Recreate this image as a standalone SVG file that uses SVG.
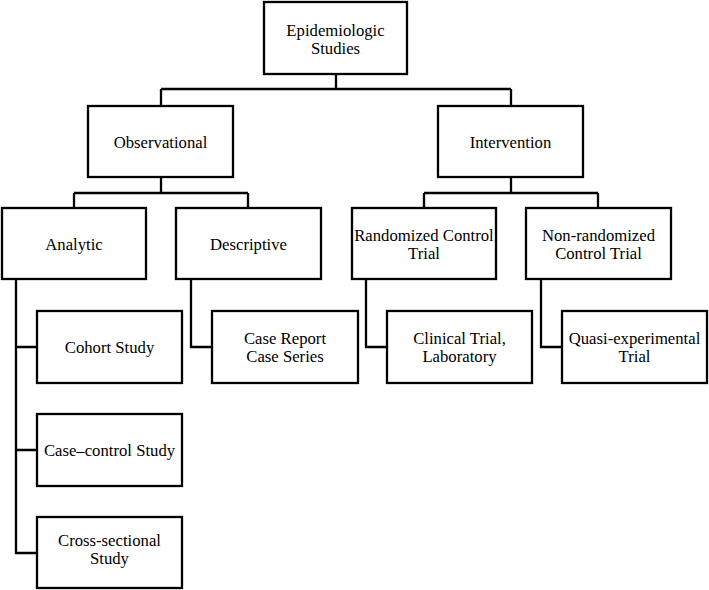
<svg xmlns="http://www.w3.org/2000/svg" width="709" height="590" viewBox="0 0 709 590">
<style>
.box{fill:#fff;stroke:#000;stroke-width:2.3}
.ln{fill:none;stroke:#000;stroke-width:2.3}
text{font-family:"Liberation Serif","Times New Roman",serif;font-size:16.7px;fill:#000;text-anchor:middle}
</style>
<rect width="709" height="590" fill="#fff"/>
<g id="connectors">
<path class="ln" d="M336 74V89M161 89H511M161 89V106M511 89V106"/>
<path class="ln" d="M161 177V193M74 193H248M74 193V208M248 193V208"/>
<path class="ln" d="M511 177V193M424 193H598M424 193V208M598 193V208"/>
<path class="ln" d="M16 279V553H37M16 347H37M16 450H37"/>
<path class="ln" d="M191 279V347H212"/>
<path class="ln" d="M366 279V347H387"/>
<path class="ln" d="M541 279V347H562"/>
</g>
<g id="epidemiologic"><rect class="box" x="264" y="2" width="143" height="72"/><text x="335.5" y="36">Epidemiologic</text><text x="335.5" y="54">Studies</text></g>
<g id="observational"><rect class="box" x="88" y="106" width="145" height="71"/><text x="160.5" y="147.5">Observational</text></g>
<g id="intervention"><rect class="box" x="438" y="106" width="145" height="71"/><text x="510.5" y="147.5">Intervention</text></g>
<g id="analytic"><rect class="box" x="2" y="208" width="144" height="71"/><text x="74" y="249.5">Analytic</text></g>
<g id="descriptive"><rect class="box" x="176" y="208" width="145" height="71"/><text x="248.5" y="249.5">Descriptive</text></g>
<g id="rct"><rect class="box" x="352" y="208" width="144" height="71"/><text x="424" y="241">Randomized Control</text><text x="424" y="259">Trial</text></g>
<g id="nrct"><rect class="box" x="526" y="208" width="145" height="71"/><text x="598.5" y="241">Non-randomized</text><text x="598.5" y="259">Control Trial</text></g>
<g id="cohort"><rect class="box" x="37" y="311" width="145" height="72"/><text x="109.5" y="353">Cohort Study</text></g>
<g id="casecontrol"><rect class="box" x="37" y="414" width="145" height="72"/><text x="109.5" y="456">Case–control Study</text></g>
<g id="crosssectional"><rect class="box" x="37" y="517" width="145" height="71"/><text x="109.5" y="546">Cross-sectional</text><text x="109.5" y="564">Study</text></g>
<g id="casereport"><rect class="box" x="212" y="311" width="146" height="72"/><text x="285" y="344">Case Report</text><text x="285" y="362">Case Series</text></g>
<g id="clinical"><rect class="box" x="387" y="311" width="145" height="72"/><text x="459.5" y="344">Clinical Trial,</text><text x="459.5" y="362">Laboratory</text></g>
<g id="quasi"><rect class="box" x="562" y="311" width="145" height="72"/><text x="634.5" y="344">Quasi-experimental</text><text x="634.5" y="362">Trial</text></g>
</svg>
